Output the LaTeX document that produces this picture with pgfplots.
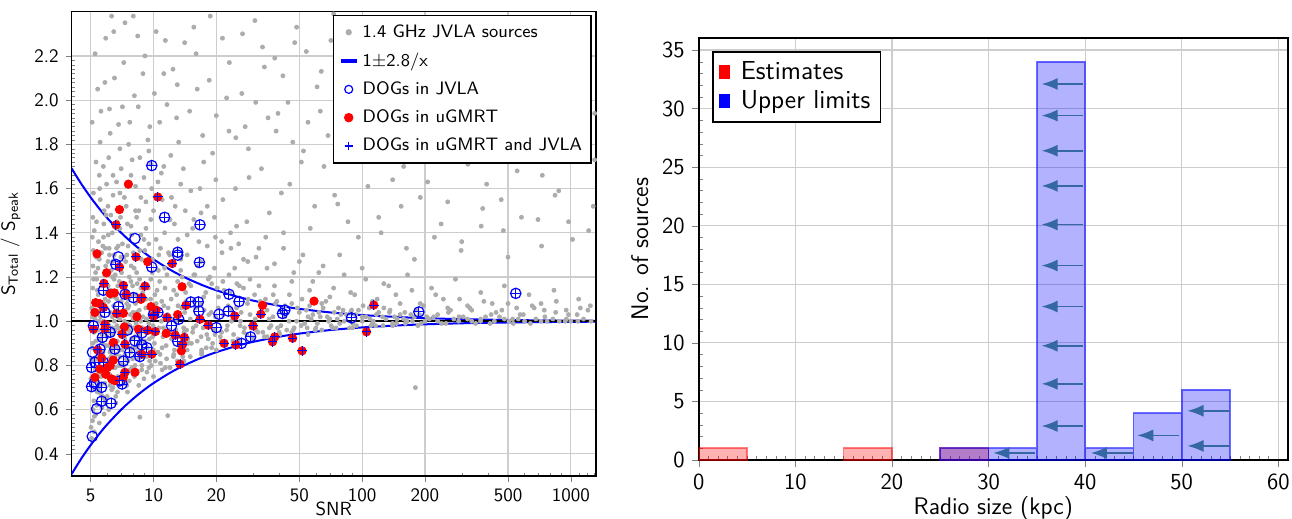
\documentclass[border=0pt]{standalone}
\usepackage{fontspec}
\usepackage{pgfplots}
\pgfplotsset{compat=1.18}
\usetikzlibrary{arrows.meta}
\renewcommand{\familydefault}{\sfdefault}
\definecolor{graypt}{RGB}{172,172,172}
\definecolor{arrowblue}{RGB}{52,103,163}
\definecolor{gridgray}{RGB}{205,205,205}
\begin{document}
\begin{tikzpicture}
\path[use as bounding box] (0,0) rectangle (646pt,-259.5pt);
% ---------------- left panel ----------------
\begin{axis}[
  at={(35.8pt,-5.85pt)}, anchor=north west, scale only axis,
  width=262.2pt, height=232.15pt,
  xmode=log, xmin=4.05, xmax=1320, ymin=0.3, ymax=2.4,
  xtick={5,10,20,50,100,200,500,1000},
  xticklabels={5,10,20,50,100,200,500,1000},
  minor xtick={4,6,7,8,9,30,40,60,70,80,90,300,400,600,700,800,900,1100,1200,1300},
  ytick={0.4,0.6,0.8,1.0,1.2,1.4,1.6,1.8,2.0,2.2},
  minor y tick num=9,
  yticklabel style={/pgf/number format/.cd, fixed, fixed zerofill, precision=1},
  /pgf/number format/assume math mode=true,
  grid=major, major grid style={gridgray, line width=0.6pt},
  tick pos=left, tick align=outside, major tick length=3pt, minor tick length=-1.6pt,
  axis line style={line width=0.8pt},
  xlabel={SNR}, ylabel={S\textsubscript{Total} / S\textsubscript{peak}},
  xlabel style={at={(axis description cs:0.5,-0.07)}, anchor=center},
  label style={font=\fontsize{9.5}{11}\selectfont},
  tick label style={font=\fontsize{9.5}{11}\selectfont},
  legend style={at={(rel axis cs:0.992,0.9935)}, anchor=north east,
    font=\fontsize{9}{10.5}\selectfont, draw=black, line width=0.7pt,
    row sep=2.2pt, inner sep=2.5pt},
  legend cell align=left,
]
\addplot[only marks, mark=*, mark size=1pt, mark options={draw=graypt, fill=graypt},
  legend image code/.code={\fill[graypt] (3pt,0pt) circle (1.2pt); \path[draw=none,fill=none] (0pt,0pt) -- (8pt,0pt);}] coordinates {
(5.02,0.52) (5.05,0.71) (5.08,0.88) (5.1,1.02) (5.12,1.15) (5.15,1.32) (5.18,0.64) (5.2,0.95) (5.22,1.08) (5.25,0.78)
(5.28,1.22) (5.3,0.58) (5.33,1.45) (5.36,0.83) (5.4,1.0) (5.43,1.12) (5.46,0.69) (5.5,1.28) (5.53,0.92) (5.56,1.55)
(5.6,0.75) (5.63,1.05) (5.66,0.61) (5.7,1.18) (5.73,0.86) (5.76,1.38) (5.8,0.97) (5.83,0.72) (5.86,1.1) (5.9,1.25)
(5.93,0.8) (5.96,1.62) (6.0,0.66) (6.03,0.99) (6.06,1.16) (6.1,0.89) (6.13,1.33) (6.16,0.76) (6.2,1.04) (6.24,1.48)
(6.28,0.84) (6.32,0.94) (6.36,1.2) (6.4,0.7) (6.44,1.07) (6.48,1.3) (6.52,0.9) (6.56,0.79) (6.6,1.13) (6.64,1.42)
(6.68,0.98) (6.72,0.68) (6.76,1.02) (6.8,1.24) (6.85,0.87) (6.9,1.58) (6.95,0.81) (7.0,1.09) (7.05,0.93) (7.1,1.35)
(7.15,0.74) (7.2,1.17) (7.25,1.0) (7.3,0.85) (7.35,1.27) (7.4,0.96) (7.45,0.71) (7.5,1.44) (7.55,1.06) (7.6,0.88)
(7.65,1.2) (7.7,0.78) (7.75,1.03) (7.8,1.66) (7.85,0.92) (7.9,1.12) (7.95,0.83) (8.0,1.31) (8.05,0.97) (8.1,0.75)
(8.2,1.08) (8.3,1.22) (8.4,0.89) (8.5,1.5) (8.6,0.94) (8.7,1.15) (8.8,0.8) (8.9,1.02) (9.0,1.37) (9.1,0.91)
(9.2,1.1) (9.3,0.77) (9.4,1.26) (9.5,0.99) (9.6,0.86) (9.7,1.19) (9.8,1.6) (9.9,0.93) (10.0,1.05) (10.2,0.82)
(10.4,1.14) (10.6,0.97) (10.8,1.33) (11.0,0.88) (11.2,1.07) (11.4,0.79) (11.6,1.21) (11.8,0.95) (12.0,1.46) (12.3,1.01)
(12.6,0.87) (12.9,1.12) (13.2,0.93) (13.5,1.28) (13.8,0.84) (14.1,1.04) (14.4,0.96) (14.8,1.17) (15.2,0.9) (15.6,1.09)
(16.0,0.98) (16.5,1.36) (17.0,0.86) (17.5,1.05) (18.0,0.94) (18.6,1.2) (19.2,0.9) (19.8,1.02) (20.5,1.11) (21.2,0.95)
(22.0,0.89) (22.8,1.07) (23.6,1.0) (24.5,1.24) (25.4,0.92) (26.3,1.04) (27.3,0.97) (28.4,1.1) (29.5,0.93) (30.7,1.01)
(32,1.16) (33.4,0.95) (35,1.05) (36.6,0.98) (38.4,1.08) (40.3,0.94) (42.5,1.02) (44.8,1.12) (47.2,0.97) (50,1.04)
(53,0.99) (56,1.07) (59.5,0.96) (63,1.02) (67,1.09) (71,0.98) (76,1.01) (81,1.05) (87,0.97) (93,1.03)
(100,1.0) (108,1.06) (116,0.98) (125,1.02) (135,1.04) (146,0.99) (158,1.01) (171,1.03) (185,0.98) (200,1.0)
(220,1.02) (240,0.99) (265,1.05) (290,1.0) (320,1.01) (350,0.99) (390,1.02) (430,1.0) (480,1.01) (530,0.99)
(600,1.0) (680,1.01) (770,1.0) (880,1.0) (1000,1.0) (1150,1.01)
(5.04,0.97) (5.09,1.38) (5.14,0.6) (5.19,0.82) (5.24,1.01) (5.29,0.91) (5.34,1.19) (5.39,0.73) (5.44,0.96) (5.49,1.09)
(5.54,0.84) (5.59,0.67) (5.64,1.31) (5.69,0.9) (5.74,1.0) (5.79,0.82) (5.84,1.21) (5.89,0.63) (5.94,1.06) (5.99,0.93)
(6.05,1.27) (6.11,0.83) (6.17,0.95) (6.23,1.11) (6.29,0.73) (6.35,1.02) (6.41,0.88) (6.47,1.19) (6.53,0.96) (6.59,0.66)
(6.65,1.05) (6.71,0.91) (6.77,1.34) (6.83,0.8) (6.89,1.01) (6.96,0.94) (7.03,1.22) (7.11,0.77) (7.18,1.03) (7.26,0.9)
(7.34,1.14) (7.42,0.83) (7.5,0.99) (7.58,1.1) (7.66,0.73) (7.74,0.95) (7.82,1.25) (7.9,0.88) (7.98,1.04) (8.15,0.8)
(8.25,0.99) (8.35,1.17) (8.45,0.86) (8.55,1.05) (8.65,0.92) (8.75,1.28) (8.85,0.97) (8.95,0.84) (9.05,1.1) (9.15,0.95)
(9.25,1.01) (9.35,0.88) (9.45,1.15) (9.55,0.92) (9.65,1.04) (9.75,0.8) (9.85,1.22) (9.95,0.98) (10.1,0.9) (10.3,1.08)
(10.5,0.86) (10.7,1.18) (10.9,1.0) (11.1,0.93) (11.3,1.24) (11.5,0.89) (11.7,1.03) (11.9,0.96) (12.15,1.1) (12.45,0.84)
(12.75,1.0) (13.05,1.18) (13.35,0.9) (13.65,1.06) (13.95,0.97) (14.25,1.13) (14.6,0.92) (15.0,1.01) (15.4,0.95) (15.8,1.21)
(16.2,0.91) (16.8,1.08) (17.3,0.97) (17.8,1.13) (18.3,0.92) (18.9,1.04) (19.5,0.96) (20.2,1.15) (20.9,0.93) (21.6,1.03)
(22.4,0.96) (23.2,1.13) (24,0.91) (25,1.06) (26,0.98) (27,1.15) (28,0.94) (29,1.03) (31,0.96) (32.5,1.09)
(34,0.93) (35.8,1.01) (37.5,1.12) (39.3,0.97) (41.3,1.04) (43.5,0.96) (46,1.08) (48.5,1.0) (51.5,1.1) (54.5,0.97)
(58,1.03) (61,0.99) (65,1.06) (69,1.0) (73.5,1.04) (78,0.99) (84,1.03) (90,0.99) (96,1.05) (104,1.02)
(112,0.99) (120,1.04) (130,1.01) (140,0.99) (152,1.03) (164,1.0) (178,1.02) (192,0.99) (210,1.01) (230,1.03)
(252,0.99) (275,1.01) (305,1.02) (335,1.0) (370,1.01) (410,0.99) (455,1.02) (505,1.0) (560,1.01) (640,0.99)
(720,1.0) (820,1.01) (940,1.0) (1080,1.0) (1250,1.0)
(5.3,1.72) (5.6,1.95) (5.9,2.28) (6.2,1.85) (6.5,2.1) (6.9,1.78) (7.3,2.35) (7.7,1.9) (8.1,2.02) (8.6,1.74)
(9.1,2.2) (9.6,1.88) (10.3,2.31) (10.9,1.67) (11.6,1.98) (12.4,2.14) (13.2,1.81) (14.1,2.26) (15.1,1.59) (16.2,2.05)
(17.4,1.72) (18.7,2.38) (20,1.93) (21.5,1.55) (23.1,2.17) (24.8,1.83) (26.7,2.3) (28.7,1.65) (30.9,1.99) (33.3,2.24)
(35.9,1.49) (38.7,1.86) (41.7,2.11) (45,1.62) (48.5,2.33) (52.3,1.77) (56.4,1.42) (60.8,2.06) (65.6,1.7) (70.8,2.27)
(76.4,1.53) (82.4,1.91) (88.9,2.19) (95.9,1.38) (103,1.8) (111,2.02) (120,1.47) (130,2.36) (140,1.64) (151,1.97)
(163,1.33) (176,2.13) (190,1.56) (205,1.87) (221,2.29) (239,1.44) (258,1.73) (278,2.07) (300,1.36) (324,1.94)
(350,2.22) (378,1.51) (408,1.79) (440,2.0) (475,1.41) (513,2.32) (553,1.68) (597,1.89) (645,2.15) (696,1.46)
(751,1.76) (811,2.25) (875,1.59) (944,1.96) (1019,1.37) (1100,1.85) (1187,2.1) (1280,1.52)
(5.2,1.41) (5.5,1.66) (5.8,1.5) (6.1,1.74) (6.4,1.57) (6.7,1.45) (7.0,1.69) (7.4,1.52) (7.8,1.43) (8.2,1.61)
(8.7,1.39) (9.2,1.54) (9.7,1.46) (10.5,1.63) (11.3,1.4) (12.2,1.56) (13.1,1.37) (14.2,1.5) (15.4,1.42) (16.7,1.6)
(18.1,1.34) (19.6,1.47) (21.3,1.31) (23.4,1.4) (25.6,1.35) (28,1.45) (31,1.29) (34.5,1.38) (38,1.26) (42,1.33)
(47,1.22) (52,1.3) (58,1.18) (65,1.25) (73,1.15) (82,1.21) (92,1.12) (104,1.19) (118,1.1) (134,1.16)
(152,1.08) (173,1.14) (197,1.07) (225,1.12) (257,1.06) (293,1.1) (335,1.05) (383,1.09) (438,1.04) (500,1.08)
(571,1.03) (653,1.07) (746,1.05) (852,1.09) (975,1.03) (1110,1.06)
(9,0.74) (11,0.78) (13,0.82) (15,0.84) (17,0.87) (19,0.88) (22,0.9) (26,0.91) (30,0.92) (35,0.93)
(40,0.95) (46,0.95) (55,0.94) (64,0.96) (75,0.97) (90,0.97) (110,0.98) (140,0.98) (180,0.70) (11.7,0.573) (8.6,0.566)
(5.1,0.55) (5.35,0.62) (5.7,0.66) (6.3,0.69) (7.2,0.72) (8.0,0.76) (9.5,0.79) (10.8,0.81) (12.5,0.85) (14.5,0.87)
(5.03,0.83) (5.13,1.25) (5.23,0.69) (5.38,1.14) (5.48,0.77) (5.58,1.02) (5.68,0.85) (5.78,1.44) (5.88,0.99) (5.98,0.78)
(6.08,1.09) (6.18,0.86) (6.27,1.23) (6.38,0.97) (6.5,1.11) (6.62,0.85) (6.74,1.16) (6.87,0.95) (7.0,0.8) (7.13,1.04)
(7.28,0.92) (7.44,1.08) (7.6,0.96) (7.77,0.86) (7.94,1.16) (8.12,0.93) (8.32,1.04) (8.52,0.9) (8.72,1.1) (8.92,0.96)
(5.01,0.74) (5.06,1.06) (5.11,0.9) (5.16,1.19) (5.21,0.57) (5.26,0.87) (5.31,1.03) (5.37,0.68) (5.42,1.24) (5.47,0.85)
(5.52,1.0) (5.57,0.71) (5.62,1.16) (5.67,0.94) (5.72,0.79) (5.77,1.08) (5.82,0.65) (5.87,1.33) (5.92,0.89) (5.97,1.13)
(6.02,0.81) (6.07,1.39) (6.12,0.98) (6.19,0.71) (6.25,1.14) (6.31,0.87) (6.37,1.27) (6.43,0.79) (6.49,1.0) (6.55,1.21)
(6.61,0.88) (6.67,1.1) (6.73,0.75) (6.79,0.97) (6.86,1.18) (6.92,0.84) (6.98,1.29)
(7.07,0.87) (7.14,1.12) (7.22,0.8) (7.29,1.05) (7.37,0.94) (7.46,1.3) (7.54,0.82) (7.62,1.07) (7.71,0.98) (7.79,1.18)
(7.88,0.79) (7.97,1.01) (8.08,1.24) (8.18,0.88) (8.28,1.12) (8.38,0.95) (8.48,0.83) (8.58,1.19) (8.68,1.0) (8.78,0.78)
(8.88,1.13) (8.98,0.91) (9.08,1.32) (9.18,1.06) (9.28,0.84) (9.38,1.16) (9.48,0.97) (9.58,0.82) (9.68,1.1) (9.78,0.95)
(9.88,1.28) (9.98,0.87) (10.15,1.12) (10.35,0.95) (10.55,1.23) (10.75,0.85) (10.95,1.09) (11.15,0.97) (11.35,1.15) (11.55,0.83)
(11.75,1.06) (11.95,1.3) (12.2,0.92) (12.5,1.14) (12.8,0.96) (13.1,1.07) (13.4,0.86) (13.7,1.2) (14.0,0.95) (14.3,1.09)
(14.7,0.9) (15.1,1.16) (15.5,0.97) (15.9,1.06) (16.3,1.25) (16.9,0.93) (17.4,1.11) (17.9,0.88) (18.4,1.03) (19.0,1.17)
(19.7,0.94) (20.4,1.06) (21.1,0.91) (21.8,1.14) (22.6,0.98) (23.4,1.05) (24.2,0.94) (25.1,1.17)
(26.1,1.0) (27.1,0.95) (28.2,1.08) (29.3,0.97) (30.5,1.12) (31.7,0.95) (33,1.04) (34.4,1.1) (35.9,0.97) (37.4,1.02)
(39,1.09) (40.8,0.98) (42.7,1.07) (44.6,1.0) (46.7,0.96) (48.9,1.06)
(51,0.98) (54,1.05) (57,1.01) (60,0.97) (64,1.08) (68,1.02) (72,0.97) (77,1.06) (82,1.0) (88,1.04)
(94,0.98) (101,1.07) (109,1.01) (117,1.03) (126,0.98) (136,1.05) (147,1.01) (160,1.04) (174,1.0) (188,1.03)
(5.15,1.58) (5.45,1.36) (5.75,1.7) (6.05,1.52) (6.35,1.4) (6.65,1.63) (6.95,1.47) (7.25,1.56) (7.55,1.34) (7.9,1.73)
(8.3,1.47) (8.7,1.56) (9.2,1.42) (9.7,1.71) (10.3,1.37) (11,1.55) (11.8,1.31) (12.6,1.44) (13.5,1.62) (14.5,1.3)
(15.6,1.46) (16.8,1.27) (18.1,1.52) (19.6,1.24) (21.2,1.36) (23,1.21) (25,1.43) (27,1.28) (29,1.19) (32,1.33)
(35,1.24) (38,1.16) (42,1.4) (46,1.18) (50,1.27) (56,1.14) (62,1.22) (70,1.11) (78,1.3) (88,1.13)
(100,1.24) (112,1.09) (127,1.17) (145,1.12) (165,1.21) (190,1.08) (215,1.15) (245,1.1) (280,1.19) (320,1.07)
(370,1.13) (420,1.08) (480,1.16) (550,1.06) (630,1.12) (720,1.08) (830,1.14) (950,1.05) (1090,1.1) (1240,1.07)
(5.4,2.05) (6.3,2.38) (7.1,1.97) (8.4,2.29) (9.4,1.82) (11.2,2.12) (12.9,1.92) (15.6,2.33) (19.2,1.76) (22.4,2.01)
(27.5,1.88) (34,2.15) (39.5,1.94) (46.5,1.81) (54,2.22) (63,1.95) (73,2.39) (85,1.74) (98,2.1) (115,1.89)
(135,2.25) (158,1.7) (183,2.04) (212,1.93) (248,2.37) (290,1.78) (338,2.09) (395,1.62) (460,1.97) (540,1.85)
(625,2.28) (730,1.66) (850,2.03) (990,1.79) (1150,2.31) (1300,1.94)
(5.05,0.47) (5.2,0.5) (5.5,0.54) (5.8,0.58) (6.1,0.6) (6.6,0.63) (7.5,0.68) (8.5,0.71) (10,0.75) (12,0.79)
(14,0.82) (17,0.85) (20,0.87) (25,0.9)
(5.08,1.9) (5.25,2.21) (5.55,1.81) (5.85,2.08) (6.15,1.96) (6.45,2.31) (6.8,1.89) (7.2,2.17) (7.6,1.8) (8.0,2.38)
(8.45,1.97) (8.9,2.12) (9.5,1.77) (10.1,2.03) (10.7,1.9) (11.4,2.27) (12.1,1.75) (13.0,2.07) (13.9,1.69) (14.9,1.95)
(16.0,2.21) (17.2,1.84) (18.5,2.09) (19.9,1.64) (21.4,2.28) (23.0,1.86) (24.7,1.6) (26.5,2.03) (28.5,1.78) (30.6,2.36)
(32.9,1.69) (35.4,1.92) (38.1,2.19) (41.0,1.58) (44.1,1.99) (47.5,2.26) (51.1,1.72) (55.0,1.9) (59.2,1.52) (63.7,2.13)
(68.6,1.84) (73.8,1.57) (79.4,2.04) (85.5,1.45) (92,1.87) (99,2.3) (106.5,1.61) (114.6,1.95) (123.3,1.4) (132.7,1.83)
(142.8,2.16) (153.7,1.52) (165.4,1.91) (178,1.28) (191.6,2.2) (206,1.63) (222,1.38) (239,1.99) (257,1.54) (277,2.18)
(298,1.32) (321,1.71) (345,2.04) (372,1.43) (400,1.86) (431,2.35) (464,1.55) (500,1.29) (538,1.99) (580,1.47)
(624,1.75) (672,2.19) (724,1.34) (780,1.91) (840,1.57) (905,2.33) (975,1.45) (1050,1.74) (1130,1.99) (1217,1.41) (1300,1.73)
(5.12,1.47) (5.32,1.29) (5.52,1.6) (5.72,1.34) (5.92,1.48) (6.15,1.3) (6.4,1.66) (6.65,1.33) (6.9,1.42) (7.2,1.29)
(7.5,1.61) (7.85,1.39) (8.2,1.5) (8.6,1.32) (9.0,1.65) (9.5,1.35) (10.0,1.5) (10.6,1.3) (11.2,1.7) (11.9,1.26)
(12.7,1.52) (13.5,1.23) (14.5,1.39) (15.6,1.21) (16.9,1.49) (18.3,1.19) (19.8,1.38) (21.5,1.18) (23.5,1.33) (25.8,1.16) (28.3,1.27)
(55,1.02) (62,1.04) (70,1.01) (79,1.03) (89,1.05) (100,1.02) (113,1.0) (127,1.06) (143,1.02) (161,0.99)
(181,1.05) (204,1.02) (230,1.0) (259,1.04) (291,1.02) (328,1.06) (369,1.0) (415,1.03) (467,1.05) (526,1.01)
(592,1.03) (667,1.06) (751,1.02) (846,1.04) (952,1.01) (1072,1.03) (1207,1.05)
};
\addlegendentry{1.4 GHz JVLA sources}
\addplot[blue, line width=1pt, smooth,
  legend image code/.code={\draw[blue, line width=2pt] (-1pt,0pt) -- (7pt,0pt); \path[draw=none,fill=none] (0pt,0pt) -- (8pt,0pt);}] coordinates {
(4.05,1.6914) (4.5,1.6222) (5,1.56) (5.5,1.5091) (6,1.4667) (7,1.4) (8,1.35) (9,1.3111) (10,1.28) (12,1.2333)
(14,1.2) (17,1.1647) (20,1.14) (25,1.112) (30,1.0933) (40,1.07) (50,1.056) (70,1.04) (100,1.028) (150,1.0187)
(200,1.014) (300,1.0093) (500,1.0056) (700,1.004) (1000,1.0028) (1320,1.0021)};
\addlegendentry{1$\pm$2.8/x}
\addplot[blue, line width=1pt, smooth, forget plot] coordinates {
(4.05,0.3086) (4.5,0.3778) (5,0.44) (5.5,0.4909) (6,0.5333) (7,0.6) (8,0.65) (9,0.6889) (10,0.72) (12,0.7667)
(14,0.8) (17,0.8353) (20,0.86) (25,0.888) (30,0.9067) (40,0.93) (50,0.944) (70,0.96) (100,0.972) (150,0.9813)
(200,0.986) (300,0.9907) (500,0.9944) (700,0.996) (1000,0.9972) (1320,0.9979)};
\addplot[black, line width=0.8pt, forget plot] coordinates {(4.05,1) (1320,1)};
% DOGs in JVLA
\addplot[only marks, mark=o, mark size=2.6pt, blue, line width=0.6pt,
  legend image code/.code={\draw[blue, line width=0.6pt] (3pt,0pt) circle (2pt); \path[draw=none,fill=none] (0pt,0pt) -- (8pt,0pt);}] coordinates {
(9.81,1.704) (11.3,1.47) (16.7,1.436) (8.15,1.374) (13.06,1.312) (6.79,1.291) (6.6,1.257) (9.81,1.245) (16.6,1.266) (13.06,1.299)
(5.75,1.14) (7.3,1.122) (8.0,1.107) (6.79,1.066) (5.85,1.04) (15.1,1.087) (16.4,1.087) (16.5,1.046) (13.2,1.009) (12.2,0.979)
(5.15,0.979) (5.69,0.927) (8.8,0.947) (8.15,0.911) (13.06,0.909) (6.53,0.874) (7.7,0.859) (8.78,0.893) (5.54,0.874) (5.24,0.814)
(5.75,0.814) (7.17,0.82) (5.05,0.704) (5.64,0.701) (7.07,0.716) (5.64,0.638) (6.26,0.629) (5.34,0.604) (5.09,0.479) (5.05,0.791)
(23.0,1.122) (25.7,1.089) (42.6,1.05) (41.5,1.035) (22.8,1.046) (20.6,1.032) (20.0,0.971) (29.2,0.929) (26.4,0.9) (88.9,1.015)
(187,1.042) (544.6,1.126) (10.0,1.03) (6.2,0.95) (9.3,0.88) (5.2,0.72) (6.9,0.73) (5.1,0.86) (7.5,0.96) (10.5,1.04) (8.6,0.84)};
\addlegendentry{DOGs in JVLA}
% DOGs in uGMRT
\addplot[only marks, mark=*, mark size=2.1pt, red, mark options={draw=red, fill=red},
  legend image code/.code={\fill[red] (3pt,0pt) circle (2pt); \path[draw=none,fill=none] (0pt,0pt) -- (8pt,0pt);}] coordinates {
(7.58,1.62) (10.48,1.562) (6.87,1.505) (6.61,1.436) (5.36,1.305) (8.24,1.291) (9.38,1.269) (6.87,1.245) (5.96,1.219) (5.79,1.171)
(7.17,1.162) (9.1,1.159) (6.2,1.125) (6.5,1.128) (7.4,1.12) (8.78,1.107) (5.28,1.084) (5.5,1.08) (5.75,1.062) (5.24,1.04)
(6.66,1.035) (7.17,1.036) (9.73,1.066) (10.3,1.05) (10.0,1.024) (11.6,1.017) (13.06,1.03) (14.3,1.072) (16.7,1.009) (18.3,0.982)
(5.15,0.964) (5.85,0.986) (5.85,0.964) (7.25,0.974) (7.07,0.941) (8.47,0.964) (9.38,0.959) (10.2,0.953) (11.5,0.945) (12.7,0.937)
(14.05,0.927) (13.8,0.896) (6.42,0.904) (7.3,0.896) (9.81,0.851) (8.78,0.851) (13.6,0.866) (5.4,0.87) (5.64,0.833) (6.42,0.824)
(13.4,0.806) (5.24,0.746) (6.3,0.739) (6.53,0.731) (7.17,0.746) (8.15,0.769) (7.3,0.769) (33.3,1.072) (32.7,1.032) (58.8,1.091)
(24.5,1.024) (30.0,0.979) (38.1,0.929) (37.2,0.907) (46.4,0.923) (51.5,0.866) (21.8,0.9) (24.8,0.893) (113.7,1.073) (104.9,0.952)
(5.54,0.784) (6.0,0.79) (6.2,0.8) (5.9,0.76) (12.3,1.261) (13.7,1.156) (8.33,1.021) (8.7,1.099)};
\addlegendentry{DOGs in uGMRT}
% both
\addplot[only marks, mark=+, mark size=2.4pt, blue, line width=0.5pt,
  legend image code/.code={\draw[blue, line width=0.6pt] (1pt,0pt)--(5pt,0pt) (3pt,-2pt)--(3pt,2pt); \path[draw=none,fill=none] (0pt,0pt) -- (8pt,0pt);}] coordinates {
(9.81,1.704) (11.3,1.47) (16.7,1.436) (13.06,1.312) (6.6,1.257) (9.81,1.245) (16.6,1.266)
(5.75,1.14) (7.3,1.122) (8.0,1.107) (6.79,1.066) (5.85,1.04) (15.1,1.087) (16.4,1.087) (16.5,1.046) (13.2,1.009) (12.2,0.979)
(5.15,0.979) (5.69,0.927) (8.8,0.947) (8.15,0.911) (13.06,0.909) (6.53,0.874) (7.7,0.859) (8.78,0.893) (5.54,0.874) (5.24,0.814)
(5.75,0.814) (7.17,0.82) (5.05,0.704) (5.64,0.701) (7.07,0.716) (5.64,0.638) (6.26,0.629) (5.05,0.791)
(23.0,1.122) (25.7,1.089) (42.6,1.05) (41.5,1.035) (22.8,1.046) (20.6,1.032) (20.0,0.971) (29.2,0.929) (26.4,0.9) (88.9,1.015)
(187,1.042) (544.6,1.126) (10.0,1.03) (6.2,0.95) (9.3,0.88) (6.9,0.73) (10.5,1.04) (8.6,0.84)
(10.48,1.562) (6.61,1.436) (8.24,1.291) (6.87,1.245) (5.79,1.171) (7.17,1.162) (9.1,1.159) (8.78,1.107) (5.75,1.062)
(6.66,1.035) (10.0,1.024) (11.6,1.017) (14.3,1.072) (16.7,1.009) (18.3,0.982) (5.15,0.964) (5.85,0.986) (5.85,0.964)
(7.07,0.941) (9.38,0.959) (10.2,0.953) (12.7,0.937) (14.05,0.927) (13.8,0.896) (7.3,0.896) (9.81,0.851) (8.78,0.851)
(5.4,0.87) (13.4,0.806) (7.3,0.769) (32.7,1.032) (24.5,1.024) (30.0,0.979) (38.1,0.929) (37.2,0.907) (46.4,0.923)
(51.5,0.866) (21.8,0.9) (24.8,0.893) (113.7,1.073) (104.9,0.952) (12.3,1.261)};
\addlegendentry{DOGs in uGMRT and JVLA}
\end{axis}
% ---------------- right panel ----------------
\begin{axis}[
  at={(349.35pt,-19.15pt)}, anchor=north west, scale only axis,
  width=294.65pt, height=210.85pt,
  xmin=0, xmax=61, ymin=0, ymax=36,
  xtick={0,10,20,30,40,50,60}, ytick={0,5,10,15,20,25,30,35},
  minor x tick num=9, minor y tick num=4,
  /pgf/number format/assume math mode=true,
  grid=major, major grid style={gridgray, line width=0.6pt},
  tick pos=left, tick align=outside, major tick length=3.5pt, minor tick length=-2pt,
  axis line style={line width=0.8pt},
  xlabel={Radio size (kpc)}, ylabel={No. of sources},
  xlabel style={at={(axis description cs:0.5,-0.116)}, anchor=center},
  label style={font=\fontsize{12}{14}\selectfont},
  tick label style={font=\fontsize{11.5}{13}\selectfont},
  legend style={at={(rel axis cs:0.0226,0.97)}, anchor=north west,
    font=\fontsize{13}{15}\selectfont, draw=black, line width=0.8pt,
    row sep=0pt, inner sep=3pt},
  legend cell align=left,
]
\addplot[ybar interval, fill=red, fill opacity=0.3, draw=red, draw opacity=0.5, line width=0.8pt,
  legend image code/.code={\fill[red, fill opacity=1, draw=none] (0pt,-3.5pt) rectangle (5.5pt,3.8pt); \path[draw=none,fill=none] (0pt,0pt) -- (9pt,0pt);}]
  coordinates {(0,1) (5,1)};
\addlegendentry{Estimates}
\addplot[ybar interval, fill=red, fill opacity=0.3, draw=red, draw opacity=0.5, line width=0.8pt, forget plot]
  coordinates {(15,1) (20,1)};
\addplot[ybar interval, fill=red, fill opacity=0.3, draw=red, draw opacity=0.5, line width=0.8pt, forget plot]
  coordinates {(25,1) (30,1)};
\addplot[ybar interval, fill=blue, fill opacity=0.3, draw=blue, draw opacity=0.55, line width=0.8pt,
  legend image code/.code={\fill[blue, fill opacity=1, draw=none] (0pt,-3.5pt) rectangle (5.5pt,3.8pt); \path[draw=none,fill=none] (0pt,0pt) -- (9pt,0pt);}]
  coordinates {(25,1) (30,1) (35,34) (40,1) (45,4) (50,6) (55,6)};
\addlegendentry{Upper limits}
\addplot[forget plot, arrowblue, line width=0.75pt, -{Latex[length=8pt,width=6pt]},
  quiver={u=\thisrow{u}, v=\thisrow{v}}] table {
x y u v
39.8 32.1 -4.3 0
39.8 29.4 -4.3 0
39.8 26.4 -4.3 0
39.8 23.4 -4.3 0
39.8 20.1 -4.3 0
39.8 16.6 -4.3 0
39.8 13.1 -4.3 0
39.8 9.75 -4.3 0
39.8 6.5 -4.3 0
39.8 2.9 -4.3 0
34.8 0.6 -4.3 0
45.0 0.6 -4.4 0
49.7 2.1 -4.3 0
55.0 4.2 -4.4 0
55.0 1.2 -4.4 0
};
\end{axis}
\end{tikzpicture}
\end{document}
